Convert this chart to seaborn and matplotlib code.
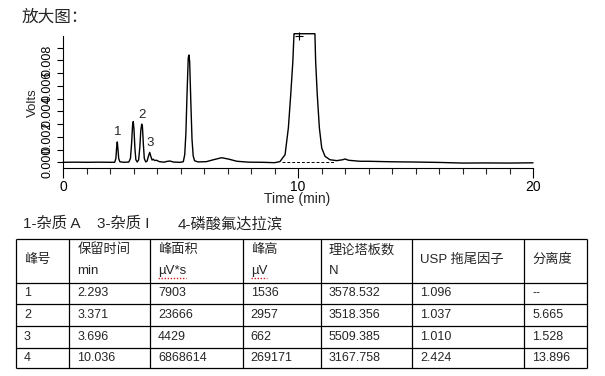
import numpy as np
import pandas as pd
import seaborn as sns
import matplotlib
matplotlib.use("Agg")
import matplotlib.pyplot as plt
from matplotlib.ticker import MultipleLocator, FormatStrFormatter

# chromatogram trace (time in min, signal in volts)
trace_t = [0.00, 0.50, 1.00, 1.50, 2.00, 2.20, 2.25, 2.28, 2.31, 2.34, 2.37, 2.42,
           2.60, 2.80, 2.87, 2.92, 2.96, 2.99, 3.02, 3.06, 3.10, 3.16,
           3.22, 3.27, 3.31, 3.35, 3.38, 3.42, 3.46, 3.52,
           3.58, 3.63, 3.69, 3.74, 3.79, 3.84, 3.90, 3.98, 4.10, 4.30, 4.45, 4.55, 4.70,
           5.00, 5.12, 5.18, 5.23, 5.28, 5.33, 5.36, 5.39, 5.44, 5.49, 5.54, 5.60, 5.75,
           6.10, 6.40, 6.75, 7.05, 7.40, 7.90, 8.50, 9.00,
           9.23, 9.45, 9.59, 9.69, 9.78, 9.83, 10.72, 10.75, 10.82, 10.91, 11.01,
           11.15, 11.36, 11.65, 11.90, 12.00, 12.15, 12.64, 13.00, 14.00, 15.00,
           16.00, 17.00, 18.00, 19.00, 20.00]
trace_v = [0.00000, 0.00001, 0.00000, 0.00001, 0.00000, 0.00000, 0.00030, 0.00110, 0.00160, 0.00100, 0.00030, 0.00004,
           0.00000, 0.00002, 0.00030, 0.00150, 0.00290, 0.00320, 0.00260, 0.00110, 0.00020, 0.00002,
           0.00020, 0.00120, 0.00250, 0.00300, 0.00280, 0.00140, 0.00030, 0.00003,
           0.00010, 0.00045, 0.00078, 0.00045, 0.00018, 0.00024, 0.00014, 0.00016, 0.00005, 0.00001, 0.00008, 0.00010, 0.00002,
           0.00000, 0.00005, 0.00060, 0.00230, 0.00550, 0.00820, 0.00843, 0.00790, 0.00470, 0.00180, 0.00050, 0.00012, 0.00003,
           0.00005, 0.00020, 0.00036, 0.00025, 0.00008, 0.00001, 0.00000, -0.00003,
           0.00005, 0.00060, 0.00270, 0.00530, 0.00790, 0.01010, 0.01010, 0.00796, 0.00531, 0.00269, 0.00112,
           0.00047, 0.00020, 0.00013, 0.00020, 0.00026, 0.00016, 0.00008, 0.00008, 0.00004, 0.00002,
           -0.00001, -0.00006, -0.00005, -0.00006, -0.00004]

# integration baseline under the main peak
base_t = [9.30, 11.55]
base_v = [0.0, 0.0]

# labelled peaks
peak_names = ["1", "2", "3"]
peak_t = [2.31, 3.37, 3.69]
peak_v = [0.00160, 0.00300, 0.00078]
apex_t, apex_v = 10.036, 0.00996

title = "放大图："
caption = ["1-杂质 A", "3-杂质 I", "4-磷酸氟达拉滨"]

# results table
head1 = ["峰号", "保留时间", "峰面积", "峰高", "理论塔板数", "USP 拖尾因子", "分离度"]
head2 = ["", "min", "µV*s", "µV", "N", "", ""]
rows = [["1", "2.293", "7903", "1536", "3578.532", "1.096", "--"],
        ["2", "3.371", "23666", "2957", "3518.356", "1.037", "5.665"],
        ["3", "3.696", "4429", "662", "5509.385", "1.010", "1.528"],
        ["4", "10.036", "6868614", "269171", "3167.758", "2.424", "13.896"]]

sns.set_theme(style="ticks")
plt.rcParams['font.family'] = ['Liberation Sans', 'Noto Sans CJK SC']
plt.rcParams['axes.unicode_minus'] = False

W, H = 605, 376
fig = plt.figure(figsize=(W / 100, H / 100), dpi=100, facecolor="white")

# chromatogram axes (y = 0 sits at 162.3 px, 12730 px per volt)
y_lo, y_hi = -0.000448, 0.00995
top_px = 162.3 - y_hi * 12730
ax = fig.add_axes([63 / W, 1 - 168 / H, 470 / W, (168 - top_px) / H])
df = pd.DataFrame({"t": trace_t, "v": trace_v})
sns.lineplot(data=df, x="t", y="v", color="black", lw=1.0, sort=False,
             estimator=None, ax=ax, clip_on=False)
ax.plot(base_t, base_v, color="black", lw=0.7, ls=(0, (3, 2)))
ax.plot([apex_t], [apex_v], marker="+", ms=6, mew=0.8, color="black", clip_on=False)
for n, t, v in zip(peak_names, peak_t, peak_v):
    ax.annotate(n, (t, v), xytext=(0, 2.5), textcoords="offset points",
                ha="center", va="bottom", fontsize=9.5)

ax.set_xlim(0, 20)
ax.xaxis.set_major_locator(MultipleLocator(10))
ax.xaxis.set_minor_locator(MultipleLocator(1))
ax.yaxis.set_major_locator(MultipleLocator(0.002))
ax.yaxis.set_minor_locator(MultipleLocator(0.001))
ax.yaxis.set_major_formatter(FormatStrFormatter("%.3f"))
ax.set_ylim(y_lo, y_hi)
for s in ["top", "right"]:
    ax.spines[s].set_visible(False)
for s in ["left", "bottom"]:
    ax.spines[s].set_linewidth(0.8)
    ax.spines[s].set_color("black")
ax.tick_params(axis="x", which="major", length=7, width=0.8, pad=1.5, labelsize=10, colors="black")
ax.tick_params(axis="x", which="minor", length=4, width=0.8)
ax.tick_params(axis="y", which="both", length=4, width=0.8, pad=3, labelsize=9, colors="black")
for lab in ax.get_yticklabels():
    lab.set_rotation(90)
    lab.set_va("center")
ax.set_xlabel("")
ax.set_ylabel("")
fig.text(32.5 / W, 1 - 102.5 / H, "Volts", rotation=90, ha="center", va="center", fontsize=9.5)
fig.text(297 / W, 1 - 199.5 / H, "Time (min)", ha="center", va="center", fontsize=10)

fig.text(22 / W, 1 - 17 / H, title, ha="left", va="center", fontsize=12)
for txt, x in zip(caption, [23, 96.5, 178]):
    fig.text(x / W, 1 - 224 / H, txt, ha="left", va="center", fontsize=11)

# table drawn in pixel coordinates
tab = fig.add_axes([0, 0, 1, 1])
tab.set_xlim(0, W)
tab.set_ylim(H, 0)
tab.axis("off")
col_x = [16, 69.3, 150, 242.7, 321, 412.3, 524.3, 586.7]
row_y = [239, 282.7, 304.3, 326, 347.7, 368.3]
tab.hlines(row_y, col_x[0], col_x[-1], color="black", lw=0.9)
tab.vlines(col_x, row_y[0], row_y[-1], color="black", lw=0.9)
for i in range(len(head1)):
    x = col_x[i] + 8
    if head2[i]:
        tab.text(x, 250, head1[i], ha="left", va="center", fontsize=9.5)
        t2 = tab.text(x, 271, head2[i], ha="left", va="center", fontsize=9.5)
        if head2[i].startswith("µ"):
            # red spell-check squiggle under the unit
            fig.canvas.draw()
            bb = t2.get_window_extent().transformed(tab.transData.inverted())
            tab.plot([bb.x0, bb.x1], [277.5, 277.5], color="#d02020", lw=1.0,
                     ls=(0, (1, 1.2)))
    else:
        tab.text(x, 260, head1[i], ha="left", va="center", fontsize=9.5)
for r, row in enumerate(rows):
    yc = (row_y[r + 1] + row_y[r + 2]) / 2
    for i, cell in enumerate(row):
        tab.text(col_x[i] + 8, yc, cell, ha="left", va="center", fontsize=9)

fig.savefig("out.png", dpi=100, facecolor="white")
